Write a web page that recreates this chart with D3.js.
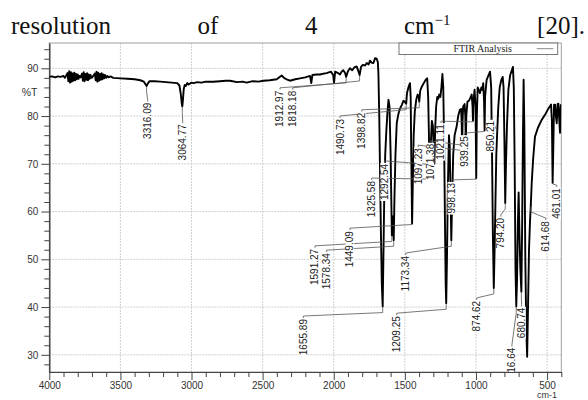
<!DOCTYPE html>
<html lang="en">
<head>
<meta charset="utf-8">
<title>FTIR Analysis</title>
<script src="https://cdn.jsdelivr.net/npm/d3@7"></script>
<style>
  body { margin: 0; background: #fff; }
  #chart { position: absolute; left: 0; top: 0; }
  #caption {
    position: absolute; top: 13px; left: 11px; right: 3px;
    font: 25px/25px "Liberation Serif", "Times New Roman", serif;
    text-align: justify; text-align-last: justify; color: #111;
  }
  #caption sup { font-size: 15px; vertical-align: 9px; line-height: 0; }
  .axis text { font-family: "Liberation Sans", Arial, sans-serif; font-size: 10px; fill: #333; }
  .axis line, .axis path { stroke: #444; }
  .grid line { stroke: #d0d0d0; stroke-dasharray: 2,1; }
  .peak-label { font-family: "Liberation Sans", Arial, sans-serif; font-size: 10px; fill: #222; }
  .leader { fill: none; stroke: #555; stroke-width: 0.8; }
</style>
</head>
<body>
<div id="chart"></div>
<div id="caption">resolution of 4 cm<sup>−1</sup> [20].</div>
<script>
var W = 588, H = 400;
var margin = {left: 49.3, right: 26.7, top: 43, bottom: 28};

// axis ticks
var xMajorTicks = [4000, 3500, 3000, 2500, 2000, 1500, 1000, 500];
var yMajorTicks = [30, 40, 50, 60, 70, 80, 90];

// spectrum: wavenumber (cm-1) and %T
var spectrumW = [4000, 3980, 3960, 3940, 3920, 3900, 3890,
  3872, 3866, 3860, 3854, 3848, 3842, 3836, 3830, 3824, 3818, 3812, 3806, 3800, 3794, 3788, 3780,
  3770, 3764, 3758, 3752, 3746, 3740, 3734, 3728, 3722, 3716, 3710, 3702, 3694,
  3680, 3674, 3668, 3662, 3656, 3650, 3644, 3638, 3632, 3626, 3620, 3614, 3608, 3600, 3592, 3584, 3570,
  3550, 3500, 3450, 3400, 3360, 3335, 3325, 3316.09, 3308, 3295, 3260, 3220, 3180, 3140, 3100, 3085, 3075, 3068, 3064.77, 3060, 3055, 3048, 3040, 3030, 3020, 3000,
  2985, 2960, 2930, 2900, 2847, 2800, 2760, 2729, 2680, 2640, 2612, 2570, 2530, 2495, 2450, 2401, 2380, 2366, 2350, 2331, 2308, 2270, 2237, 2200, 2167, 2158, 2150, 2120, 2097, 2070, 2050, 2020, 2004, 1998, 1990, 1970, 1956, 1945, 1933, 1920, 1912.97, 1900, 1886, 1870, 1855, 1839, 1828, 1818.18, 1808, 1796, 1780, 1768, 1755, 1745, 1735, 1722, 1715, 1710, 1698, 1690, 1686, 1680, 1675, 1668, 1662, 1655.89,
  1650, 1645, 1638, 1630, 1622, 1615, 1608, 1600, 1595, 1591.27, 1586, 1582, 1578.34, 1573, 1566, 1557, 1545, 1535, 1522, 1510, 1500, 1490.73, 1485, 1475, 1464, 1459, 1455, 1449.09, 1444, 1438, 1430, 1420, 1410, 1403, 1398.82, 1392, 1380, 1365, 1353, 1343, 1336, 1330, 1325.58, 1318, 1310, 1303, 1297, 1292.54, 1287, 1280, 1272, 1265, 1258, 1250, 1243, 1236, 1230, 1224, 1218, 1213, 1209.25, 1204, 1197, 1190, 1185, 1179, 1173.34, 1168, 1160, 1150, 1136, 1125, 1113, 1104, 1100, 1097.23, 1094, 1090, 1080, 1075, 1071.38, 1068, 1060, 1050, 1041, 1030, 1024, 1021.11, 1018, 1010, 1003, 998.13, 994, 988, 980, 972, 962, 955, 949, 943, 939.25, 936, 925, 912, 901, 893, 887, 881, 874.62, 869, 863, 857, 850.21, 843, 833, 822, 812, 806, 800, 794.20, 789, 782, 772, 760, 748, 740, 734, 728, 722, 716.64, 711, 705, 700, 694, 688, 680.74, 675, 670, 665, 660, 653, 646, 640, 634, 627, 620, 614.68, 608, 598, 585, 565, 538, 510, 490, 472, 466, 461.01, 457, 451, 444, 438, 432, 426, 420, 414, 409, 404, 400];
var spectrumT = [88.2, 88.3, 88.1, 88.3, 88.2, 88.4, 88.0,
  89.0, 87.3, 89.4, 87.0, 89.2, 87.2, 88.9, 87.4, 89.1, 87.5, 88.8, 87.7, 88.7, 87.8, 88.4, 88.1,
  88.9, 87.4, 89.2, 87.3, 88.8, 87.6, 89.0, 87.5, 88.7, 87.8, 88.6, 88.0, 88.3,
  88.9, 87.5, 89.3, 87.2, 89.1, 87.4, 88.8, 87.6, 89.0, 87.7, 88.7, 87.9, 88.6, 88.0, 88.4, 88.1, 88.3,
  88.0, 87.9, 87.8, 87.7, 87.5, 87.2, 86.7, 86.3, 86.8, 87.3, 87.3, 87.2, 87.1, 87.0, 86.9, 86.4, 84.5, 82.5, 82.0, 83.5, 85.6, 86.5, 86.3, 86.9, 86.6, 87.0,
  86.9, 87.1, 87.0, 87.2, 87.2, 87.3, 87.4, 87.4, 87.1, 87.2, 87.0, 87.3, 87.2, 87.4, 87.5, 87.7, 88.2, 88.5, 88.0, 87.7, 87.4, 87.7, 87.9, 88.1, 88.4, 86.9, 88.6, 88.7, 88.7, 88.9, 89.0, 89.3, 88.6, 86.9, 89.3, 89.0, 88.7, 89.3, 89.6, 89.0, 88.2, 89.4, 90.0, 89.6, 90.2, 90.4, 89.5, 88.6, 90.3, 90.7, 90.6, 91.1, 90.8, 91.6, 91.2, 91.1, 91.6, 92.1, 92.0, 91.3, 89.0, 80.0, 69.4, 55.0, 45.0, 40.1,
  52, 63, 72, 77, 81, 83.4, 82, 72, 62, 55.0, 59, 58, 54.0, 63, 72, 78.5, 80.5, 81.5, 82.3, 83.2, 83.0, 82.6, 84.8, 86.0, 86.9, 84, 72, 57.5, 66, 76, 81, 83.4, 84.5, 84.2, 83.0, 85.3, 86.2, 87.0, 87.6, 87.9, 84, 75, 67, 74, 79, 78, 73, 70, 77, 82, 84, 83.6, 84.5, 84, 86, 88.8, 86, 75, 58, 45, 40.8, 50, 66, 76, 74, 64, 54, 62, 72, 76, 77.8, 80, 81.3, 81.5, 78, 73, 79, 82, 82.5, 80, 74, 80, 83, 83.2, 83.7, 84.5, 82, 79, 83, 85.5, 82, 67, 80, 86, 85.5, 84.8, 86, 85.5, 86.9, 83, 77, 84, 87.6, 88.5, 89.3, 86, 72, 55, 44, 52, 62, 72, 77, 82, 86, 87.5, 88.2, 86, 75, 61.8, 70, 78, 85.5, 88.5, 89.6, 90.3, 86, 70, 48, 40.1, 46, 58, 64, 55, 48, 43.2, 58, 75, 87.6, 78, 50, 35, 29.6, 40, 52, 58, 61.2, 66, 71, 75.7, 77.5, 79.2, 80.5, 81.6, 82.4, 79, 66, 72, 82.4, 82.4, 80, 78.5, 82.5, 82.6, 79, 76.5, 82, 82.5];

// labelled peaks and where their labels sit (label top, in cm-1 and %T)
var peakValues = [3316.09, 3064.77, 1912.97, 1818.18, 1490.73, 1398.82, 1325.58, 1292.54, 1591.27, 1578.34, 1449.09, 1655.89, 1209.25, 1173.34, 1097.23, 1071.38, 1021.11, 998.13, 939.25, 850.21, 874.62, 794.20, 716.64, 680.74, 614.68, 461.01];
var labelW = [3308, 3062, 2378, 2289, 1956, 1803, 1733, 1643, 2132, 2050, 1886, 2214, 1557, 1494, 1406, 1323, 1246, 1171, 1081, 895, 995, 825, 747, 679, 509, 432];
var labelT = [83.0, 78.5, 85.5, 85.5, 79.6, 80.9, 66.6, 70.2, 52.4, 51.5, 56.1, 37.7, 38.3, 50.9, 73.5, 74.4, 78.5, 66.2, 76.0, 79.2, 41.5, 58.9, 31.7, 40.1, 58.2, 65.1];

var svg = d3.select("#chart").append("svg").attr("width", W).attr("height", H);

var x = d3.scaleLinear().domain([4000, 400]).range([margin.left, W - margin.right]);
var y = d3.scaleLinear().domain([26.4, 95.3]).range([H - margin.bottom, margin.top]);
var x0 = x.range()[0], x1 = x.range()[1], yTop = y.range()[1], yBot = y.range()[0];

svg.append("clipPath").attr("id", "plotclip")
  .append("rect").attr("x", x0).attr("y", yTop).attr("width", x1 - x0).attr("height", yBot - yTop);

// grid
var grid = svg.append("g").attr("class", "grid");
grid.selectAll(".vgrid").data(xMajorTicks.filter(function(d) { return d < 4000; }))
  .enter().append("line").attr("class", "vgrid")
    .attr("x1", function(d) { return x(d); }).attr("x2", function(d) { return x(d); })
    .attr("y1", yTop).attr("y2", yBot);
grid.selectAll(".hgrid").data(yMajorTicks)
  .enter().append("line").attr("class", "hgrid")
    .attr("y1", function(d) { return y(d); }).attr("y2", function(d) { return y(d); })
    .attr("x1", x0).attr("x2", x1);

// frame
svg.append("rect").attr("x", x0).attr("y", yTop).attr("width", x1 - x0).attr("height", yBot - yTop)
  .attr("fill", "none").attr("stroke", "#a0a0a0");

// axes
var xMinor = d3.range(3900, 399, -100).filter(function(d) { return d % 500 != 0; });
var yMinor = d3.range(28, 95, 2).filter(function(d) { return d % 10 != 0; });

svg.append("g").attr("class", "axis").attr("transform", "translate(0," + yBot + ")")
  .call(d3.axisBottom(x).tickValues(xMinor).tickSize(5).tickSizeOuter(0).tickFormat(""));
svg.append("g").attr("class", "axis").attr("transform", "translate(0," + yBot + ")")
  .call(d3.axisBottom(x).tickValues(xMajorTicks).tickSize(8).tickSizeOuter(0).tickPadding(1.5).tickFormat(d3.format("d")));
svg.append("g").attr("class", "axis").attr("transform", "translate(" + x0 + ",0)")
  .call(d3.axisLeft(y).tickValues(yMinor).tickSize(5).tickSizeOuter(0).tickFormat(""));
svg.append("g").attr("class", "axis").attr("transform", "translate(" + x0 + ",0)")
  .call(d3.axisLeft(y).tickValues(yMajorTicks).tickSize(8).tickSizeOuter(0).tickPadding(3));

svg.append("text").attr("class", "peak-label").attr("x", 37.5).attr("y", 96)
  .attr("text-anchor", "end").style("font-size", "10.5px").style("fill", "#333").text("%T");
svg.append("text").attr("class", "peak-label").attr("x", 547).attr("y", 398)
  .attr("text-anchor", "middle").style("font-size", "9px").style("fill", "#333").text("cm-1");

// spectrum
var spectrum = spectrumW.map(function(w, i) { return [w, spectrumT[i]]; });
var plot = svg.append("g").attr("clip-path", "url(#plotclip)");
plot.append("path").datum(spectrum)
  .attr("fill", "none").attr("stroke", "#000").attr("stroke-width", 1.9).attr("stroke-linejoin", "round")
  .attr("d", d3.line().x(function(d) { return x(d[0]); }).y(function(d) { return y(d[1]); }));

function tAt(w) {
  for (var i = 0; i < spectrumW.length - 1; i++) {
    if (spectrumW[i] >= w && spectrumW[i + 1] <= w) {
      var f = (spectrumW[i] - w) / (spectrumW[i] - spectrumW[i + 1]);
      return spectrumT[i] + f * (spectrumT[i + 1] - spectrumT[i]);
    }
  }
  return spectrumT[spectrumT.length - 1];
}

// peak labels with leader lines
var peaks = peakValues.map(function(p, i) {
  return {value: p, lx: x(labelW[i]), ly: y(labelT[i]), px: x(p), py: y(tAt(p))};
});
plot.selectAll(".leader").data(peaks).enter().append("path")
  .attr("class", "leader")
  .attr("d", function(d) {
    var ey = (d.ly - 2 > d.py + 6) ? d.py + 6 : d.py + 1;
    return "M" + d.lx + "," + d.ly + "L" + d.lx + "," + (d.ly - 2) + "L" + d.px + "," + ey + "L" + d.px + "," + (d.py + 1);
  });
var labels = plot.selectAll(".lab").data(peaks).enter().append("g")
  .attr("class", "lab")
  .attr("transform", function(d) { return "translate(" + d.lx + "," + d.ly + ") rotate(-90)"; });
labels.append("rect").attr("fill", "#fff").attr("y", -4.2).attr("height", 8.4);
labels.append("text")
  .attr("class", "peak-label")
  .attr("text-anchor", "end").attr("dx", "-1").attr("dy", "0.35em")
  .text(function(d) { return d.value.toFixed(2); });
labels.each(function() {
  var g = d3.select(this);
  var len = g.select("text").node().getComputedTextLength();
  g.select("rect").attr("x", -len - 2).attr("width", len + 2);
});

// legend
var lg = svg.append("g");
lg.append("rect").attr("x", 399).attr("y", yTop).attr("width", 158.7).attr("height", 11.5)
  .attr("fill", "#fff").attr("stroke", "#777");
lg.append("text").attr("x", 482.7).attr("y", 51.8).attr("text-anchor", "middle")
  .style("font-family", "'Liberation Serif', 'Times New Roman', serif").style("font-size", "10px").style("fill", "#222")
  .text("FTIR Analysis");
lg.append("line").attr("x1", 536.7).attr("x2", 553.3).attr("y1", 48.7).attr("y2", 48.7)
  .attr("stroke", "#888");
</script>
</body>
</html>
